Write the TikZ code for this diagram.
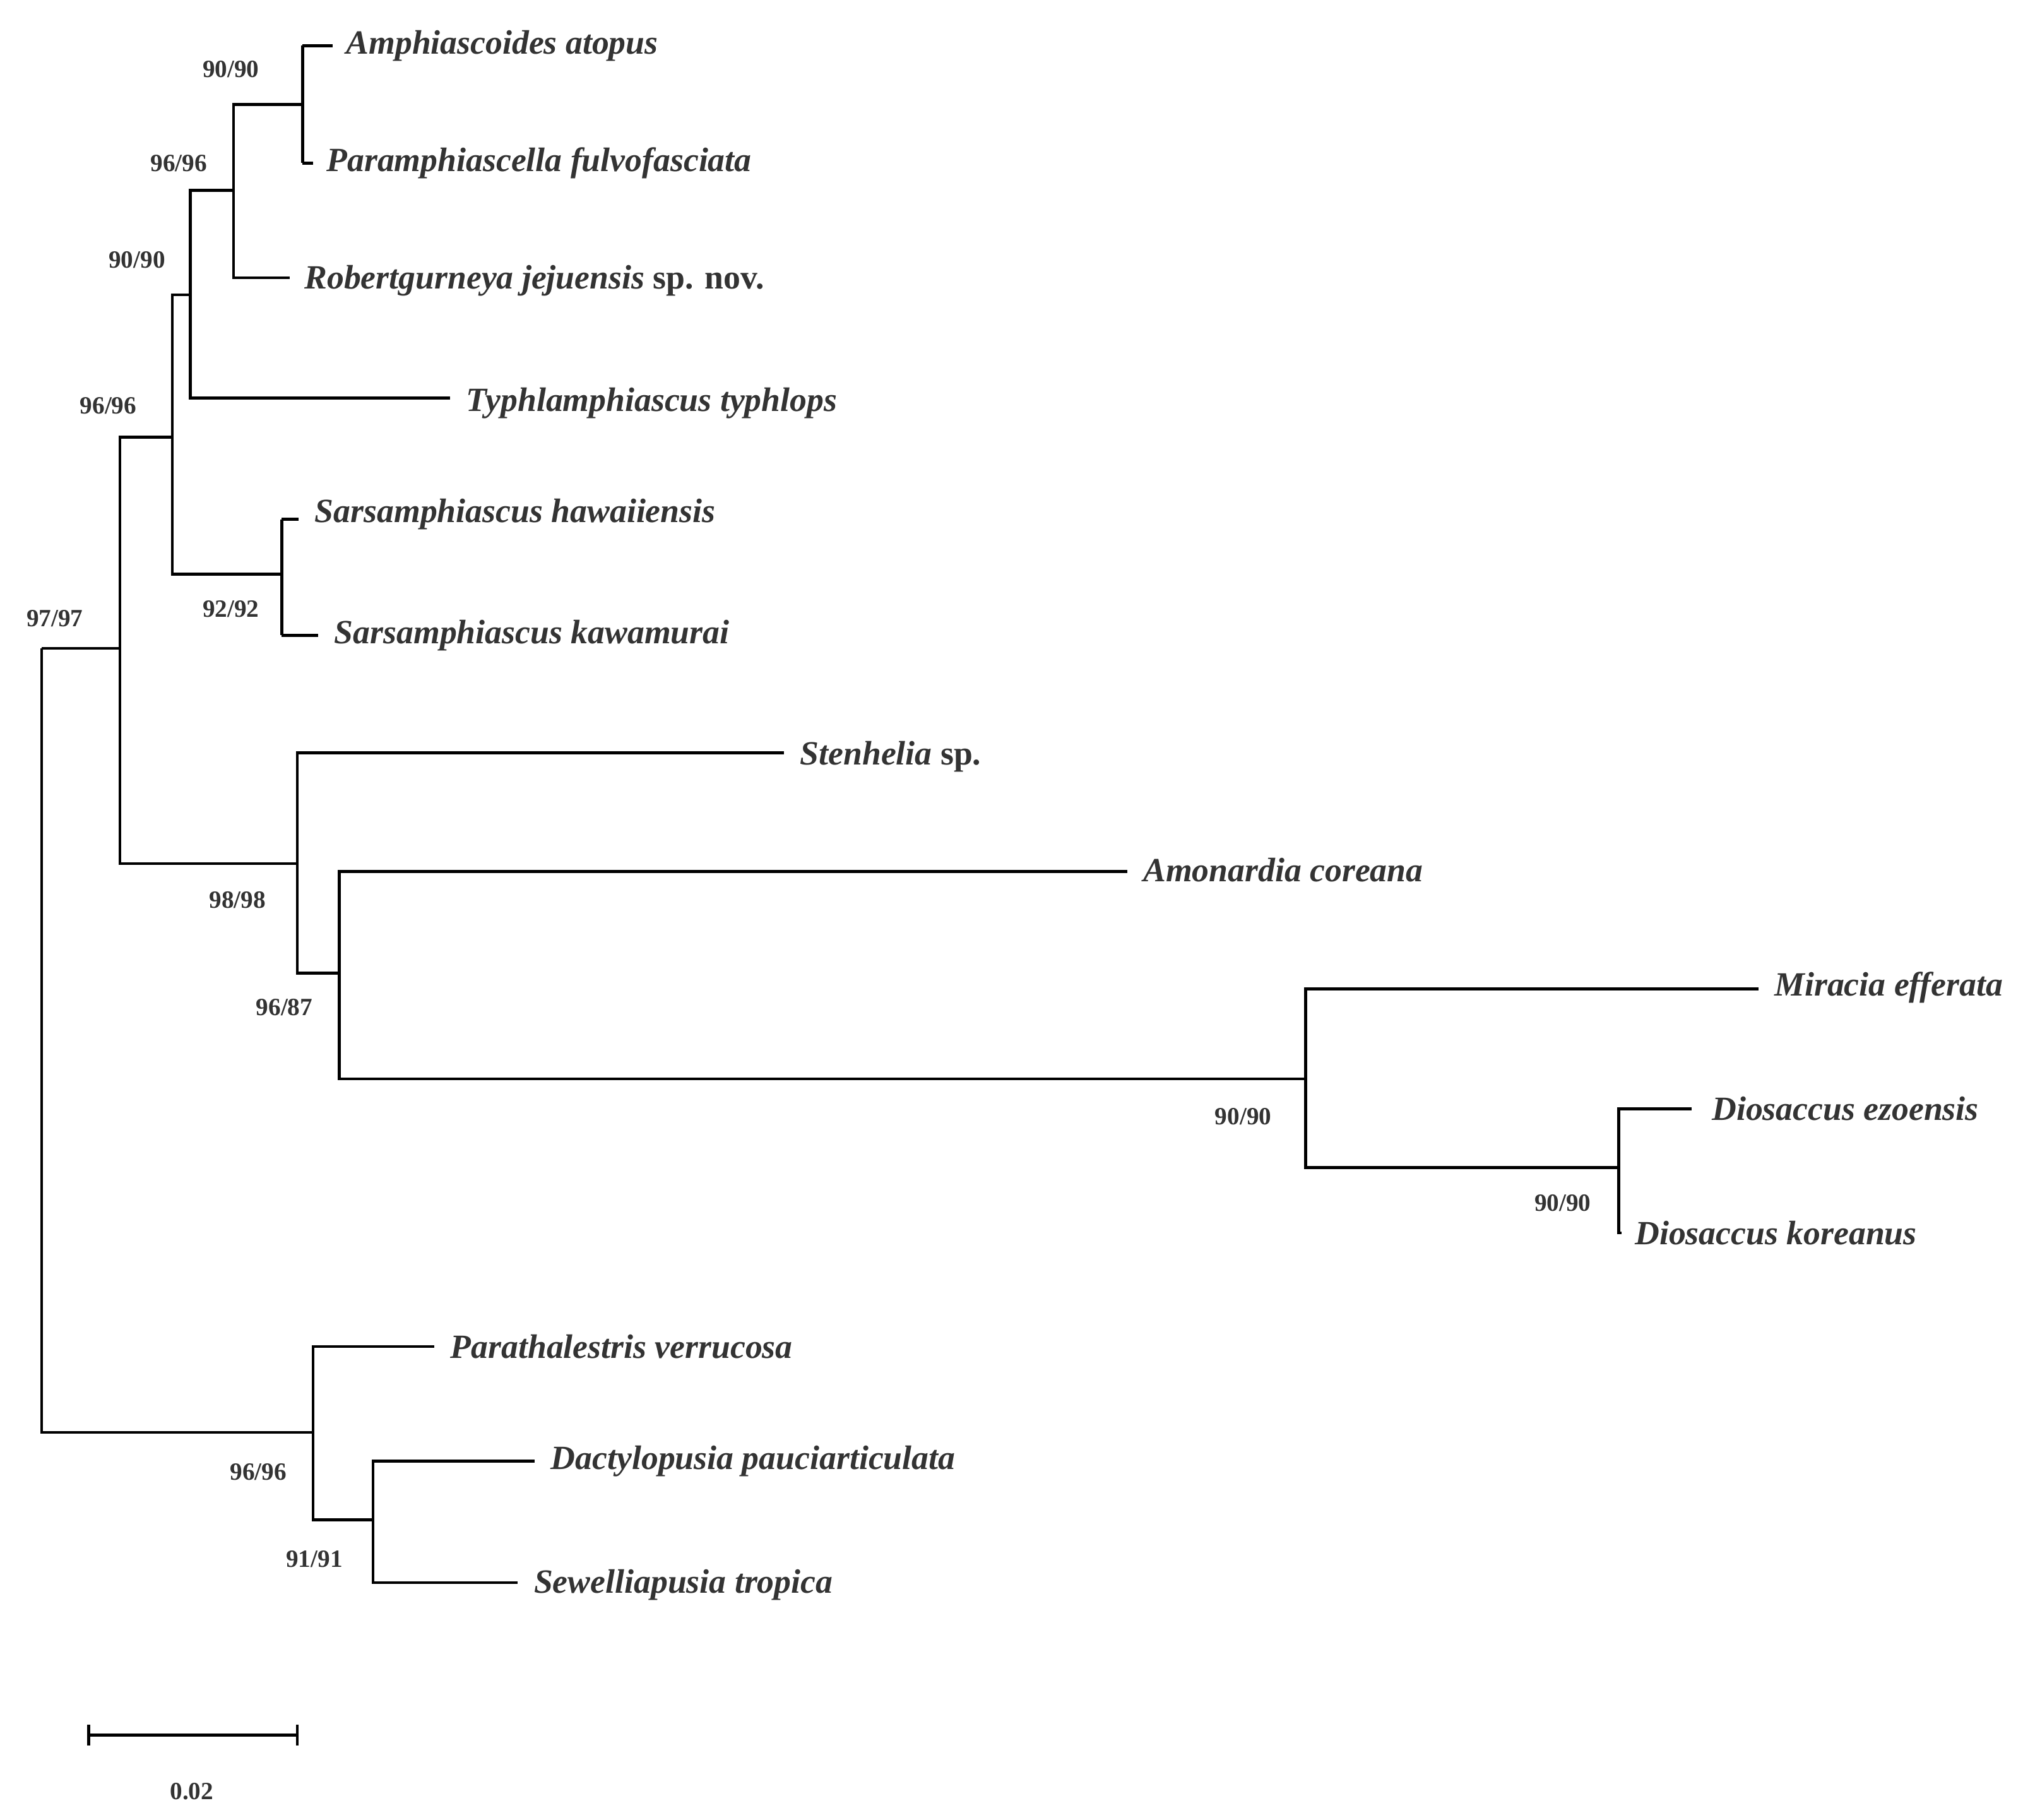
\documentclass[tikz,border=0pt]{standalone}
\usepackage{fontspec}
\setmainfont{Liberation Serif}
\begin{document}
\begin{tikzpicture}[x=0.5pt,y=-0.5pt,
  br/.style={line width=1.1pt,black},
  tx/.style={anchor=west,inner sep=0pt,font=\fontsize{13}{15}\selectfont\bfseries\itshape,text=black!80},
  bs/.style={inner sep=0pt,font=\fontsize{9.5}{11}\selectfont\bfseries,text=black!80}]
\useasboundingbox (0,0) rectangle (1560,1395);
% internal nodes
\coordinate (R) at (32,497);
\coordinate (I) at (92,497);
\coordinate (E) at (132,335);
\coordinate (C) at (146,226);
\coordinate (B) at (179,146);
\coordinate (A) at (232,80);
\coordinate (D) at (216,440);
\coordinate (F2) at (228,662);
\coordinate (F) at (260,746);
\coordinate (G) at (1001,827);
\coordinate (H) at (1241,895);
\coordinate (J) at (240,1098);
\coordinate (K) at (286,1165);
% tips
\node[tx] (t1) at (265,35) {Amphiascoides atopus};
\node[tx] (t2) at (250,125) {Paramphiascella fulvofasciata};
\node[tx] (t3) at (233,215) {Robertgurneya jejuensis\upshape{} sp. nov.};
\node[tx] (t4) at (357,309) {Typhlamphiascus typhlops};
\node[tx] (t5) at (241,394) {Sarsamphiascus hawaiiensis};
\node[tx] (t6) at (256,487) {Sarsamphiascus kawamurai};
\node[tx] (t7) at (613,580) {Stenhelia\upshape{} sp.};
\node[tx] (t8) at (876,667) {Amonardia coreana};
\node[tx] (t9) at (1360,757) {Miracia efferata};
\node[tx] (t10) at (1312,850) {Diosaccus ezoensis};
\node[tx] (t11) at (1253,945) {Diosaccus koreanus};
\node[tx] (t12) at (345,1032) {Parathalestris verrucosa};
\node[tx] (t13) at (422,1120) {Dactylopusia pauciarticulata};
\node[tx] (t14) at (409,1215) {Sewelliapusia tropica};
% branches
\draw[br] (A) ++(0,-45) -- ++(0,90);
\draw[br] (232,35) -- (255,35);
\draw[br] (232,125) -- (240,125);
\draw[br] (B) |- (A);
\draw[br] (B) |- (222,213);
\draw[br] (C) |- (B);
\draw[br] (C) |- (345,305);
\draw[br] (E) |- (C);
\draw[br] (E) |- (D);
\draw[br] (D) ++(0,-42) -- ++(0,89);
\draw[br] (216,398) -- (229,398);
\draw[br] (216,487) -- (244,487);
\draw[br] (I) |- (E);
\draw[br] (I) |- (F2);
\draw[br] (F2) |- (601,577);
\draw[br] (F2) |- (F);
\draw[br] (F) |- (864,668);
\draw[br] (F) |- (G);
\draw[br] (G) |- (1348,758);
\draw[br] (G) |- (H);
\draw[br] (H) |- (1297,850);
\draw[br] (H) |- (1243,945);
\draw[br] (R) -- (I);
\draw[br] (R) -- (32,1098) -- (J);
\draw[br] (J) |- (333,1032);
\draw[br] (J) |- (K);
\draw[br] (K) |- (410,1120);
\draw[br] (K) |- (397,1213);
% support labels
\node[bs] at (177,53) {90/90};
\node[bs] at (137,125) {96/96};
\node[bs] at (105,199) {90/90};
\node[bs] at (83,311) {96/96};
\node[bs] at (177,467) {92/92};
\node[bs] at (42,474) {97/97};
\node[bs] at (182,690) {98/98};
\node[bs] at (218,772) {96/87};
\node[bs] at (953,856) {90/90};
\node[bs] at (1198,922) {90/90};
\node[bs] at (198,1128) {96/96};
\node[bs] at (241,1195) {91/91};
% scale bar
\coordinate (s1) at (68,1330);
\coordinate (s2) at (228,1330);
\draw[br] (s1) -- (s2);
\draw[br] (68,1322) -- (68,1338);
\draw[br] (228,1322) -- (228,1338);
\node[bs] (sl) at (147,1373) {0.02};
\end{tikzpicture}
\end{document}
